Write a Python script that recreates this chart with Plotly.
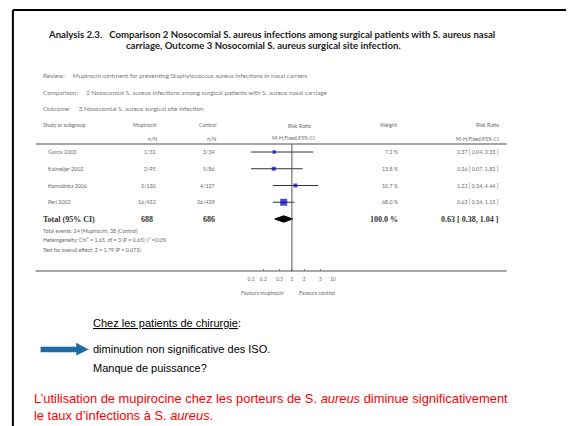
import plotly.graph_objects as go

# ---------------- data ----------------
studies = ["Garcia 2003", "Kalmeijer 2002", "Konvalinka 2006", "Perl 2002"]
mup_nN = ["1/31", "2/95", "5/130", "16/432"]
ctl_nN = ["3/34", "5/86", "4/127", "26/439"]
weights = [7.3, 13.8, 10.7, 68.0]
rr = [0.37, 0.36, 1.22, 0.63]
lo = [0.04, 0.07, 0.34, 0.34]
hi = [3.33, 1.82, 4.44, 1.15]
total_label = "Total (95% CI)"
total_mup = "688"
total_ctl = "686"
total_weight = 100.0
total_rr, total_lo, total_hi = 0.63, 0.38, 1.04
axis_ticks = [0.1, 0.2, 0.5, 1, 2, 5, 10]
axis_ticktext = ["0.1", "0.2", "0.5", "1", "2", "5", "10"]

W, H = 569, 426
GRAY = "#6a6a6a"
SMALL = dict(family="Lato", size=5.3, color=GRAY)

fig = go.Figure()

# row geometry (row index axis y2)
row0_px, row_step = 152.0, 16.75
top_px, bot_px = 144.0, 271.0
y2_range = [(bot_px - row0_px) / row_step, (top_px - row0_px) / row_step]

# CI lines
for i in range(len(studies)):
    fig.add_trace(go.Scatter(x=[lo[i], hi[i]], y=[i, i], mode="lines",
                             line=dict(color="#333333", width=1),
                             xaxis="x2", yaxis="y2", hoverinfo="skip", showlegend=False))
# point estimates
fig.add_trace(go.Scatter(x=rr, y=list(range(len(studies))), mode="markers",
                         marker=dict(symbol="square", color="#0000c0",
                                     size=[1.6 + 0.66 * w ** 0.5 for w in weights],
                                     line=dict(width=0)),
                         xaxis="x2", yaxis="y2", hoverinfo="skip", showlegend=False))
# diamond
ti = len(studies)
fig.add_trace(go.Scatter(x=[total_lo, total_rr, total_hi, total_rr, total_lo],
                         y=[ti, ti - 0.19, ti, ti + 0.19, ti],
                         mode="lines", fill="toself", fillcolor="black",
                         line=dict(color="black", width=1),
                         xaxis="x2", yaxis="y2", hoverinfo="skip", showlegend=False))

ann = []
def A(text, x, y, xanchor="left", font=None, yref="y", xref="x"):
    if xanchor == "left":
        x = x - 3
    ann.append(dict(text=text, x=x, y=y, xref=xref, yref=yref, xanchor=xanchor,
                    yanchor="middle", showarrow=False, font=font or SMALL))

# title
TF = dict(family="Lato", size=9.6, color="#222222")
A("<b>Analysis 2.3.   Comparison 2 Nosocomial S. aureus infections among surgical patients with S. aureus nasal</b>",
  271, 34, "center", TF)
A("<b>carriage, Outcome 3 Nosocomial S. aureus surgical site infection.</b>", 263, 45, "center", TF)

# review block
RF = dict(family="Lato", size=6.35, color="#7a7a7a")
A("Review:     Mupirocin ointment for preventing Staphylococcus aureus infections in nasal carriers", 41, 75, font=RF)
A("Comparison:     2 Nosocomial S. aureus infections among surgical patients with S. aureus nasal carriage", 41, 92, font=RF)
A("Outcome:     3 Nosocomial S. aureus surgical site infection", 41, 108, font=RF)

# headers
A("Study or subgroup", 41, 125)
A("Mupirocin", 158, 125, "right")
A("n/N", 158, 139, "right")
A("Control", 217, 125, "right")
A("n/N", 217, 139, "right")
A("Risk Ratio", 300, 126, "center")
A("M-H,Fixed,95% CI", 294, 138, "center")
A("Weight", 400, 125, "right")
A("Risk Ratio", 503, 125, "right")
A("M-H,Fixed,95% CI", 503, 139, "right")

for i, s in enumerate(studies):
    A(s, 46, i, yref="y2")
    A(mup_nN[i], 157, i, "right", yref="y2")
    A(ctl_nN[i], 216, i, "right", yref="y2")
    A(f"{weights[i]:.1f} %", 402, i, "right", yref="y2")
    A(f"{rr[i]:.2f} [ {lo[i]:.2f}, {hi[i]:.2f} ]", 503, i, "right", yref="y2")

BF = dict(family="Liberation Serif", size=8, color="#333333")
A(f"<b>{total_label}</b>", 41, ti, font=BF, yref="y2")
A(f"<b>{total_mup}</b>", 154, ti, "right", BF, yref="y2")
A(f"<b>{total_ctl}</b>", 216, ti, "right", BF, yref="y2")
A(f"<b>{total_weight:.1f} %</b>", 401, ti, "right", BF, yref="y2")
A(f"<b>{total_rr:.2f} [ {total_lo:.2f}, {total_hi:.2f} ]</b>", 503, ti, "right", BF, yref="y2")

A("Total events: 24 (Mupirocin), 38 (Control)", 41, 231)
A("Heterogeneity: Chi² = 1.65, df = 3 (P = 0.65); I² =0.0%", 41, 240)
A("Test for overall effect: Z = 1.79 (P = 0.073)", 41, 250)

A("Favours mupirocin", 262, 293, "center")
A("Favours control", 317, 293, "center")

# slide text
SF = dict(family="Liberation Sans, Arial", size=11, color="black")
A("<u>Chez les patients de chirurgie</u>:", 92, 323, font=SF)
A("diminution non significative des ISO.", 92, 349, font=SF)
A("Manque de puissance?", 92, 368, font=SF)
RFt = dict(family="Liberation Sans, Arial", size=12.9, color="#ff0000")
A("L’utilisation de mupirocine chez les porteurs de S. <i>aureus</i> diminue significativement", 32, 398, font=RFt)
A("le taux d’infections à S. <i>aureus</i>.", 32, 415, font=RFt)

shapes = [
    # slide frame (top and left)
    dict(type="line", xref="x", yref="y", x0=10, x1=569, y0=10, y1=10, line=dict(color="black", width=2)),
    dict(type="line", xref="x", yref="y", x0=10, x1=10, y0=10, y1=426, line=dict(color="black", width=2)),
    # table rules
    dict(type="line", xref="x", yref="y", x0=33, x1=509, y0=top_px, y1=top_px, line=dict(color="#888888", width=1.3)),
    dict(type="line", xref="x", yref="y", x0=33, x1=509, y0=bot_px, y1=bot_px, line=dict(color="#888888", width=1.3)),
    # line of no effect
    dict(type="line", xref="x2", yref="y2 domain", x0=1, x1=1, y0=0, y1=1, line=dict(color="#555555", width=1)),
    # arrow
    dict(type="path", xref="x", yref="y",
         path="M38,346.7 L74,346.7 L74,342.7 L86.5,349.5 L74,355.5 L74,352.3 L38,352.3 Z",
         fillcolor="#1f6aa5", line=dict(width=0)),
]

fig.update_layout(
    width=W, height=H, margin=dict(l=0, r=0, t=0, b=0),
    paper_bgcolor="white", plot_bgcolor="rgba(0,0,0,0)",
    showlegend=False,
    xaxis=dict(range=[0, W], domain=[0, 1], visible=False, fixedrange=True),
    yaxis=dict(range=[H, 0], domain=[0, 1], visible=False, fixedrange=True),
    xaxis2=dict(type="log", range=[-1, 1], domain=[250.7 / W, 333.3 / W], anchor="y2",
                tickvals=axis_ticks, ticktext=axis_ticktext, ticks="inside", ticklen=2,
                tickcolor="#777777", showline=False, showgrid=False, zeroline=False,
                tickfont=dict(family="Lato", size=5, color=GRAY), ticklabelstandoff=4),
    yaxis2=dict(range=y2_range, domain=[1 - bot_px / H, 1 - top_px / H], anchor="x2",
                visible=False),
    annotations=ann, shapes=shapes,
)

fig.write_html("out.html", config={"displayModeBar": False},
               post_script="document.body.style.margin='0';document.body.style.overflow='hidden';document.documentElement.style.overflow='hidden';")
